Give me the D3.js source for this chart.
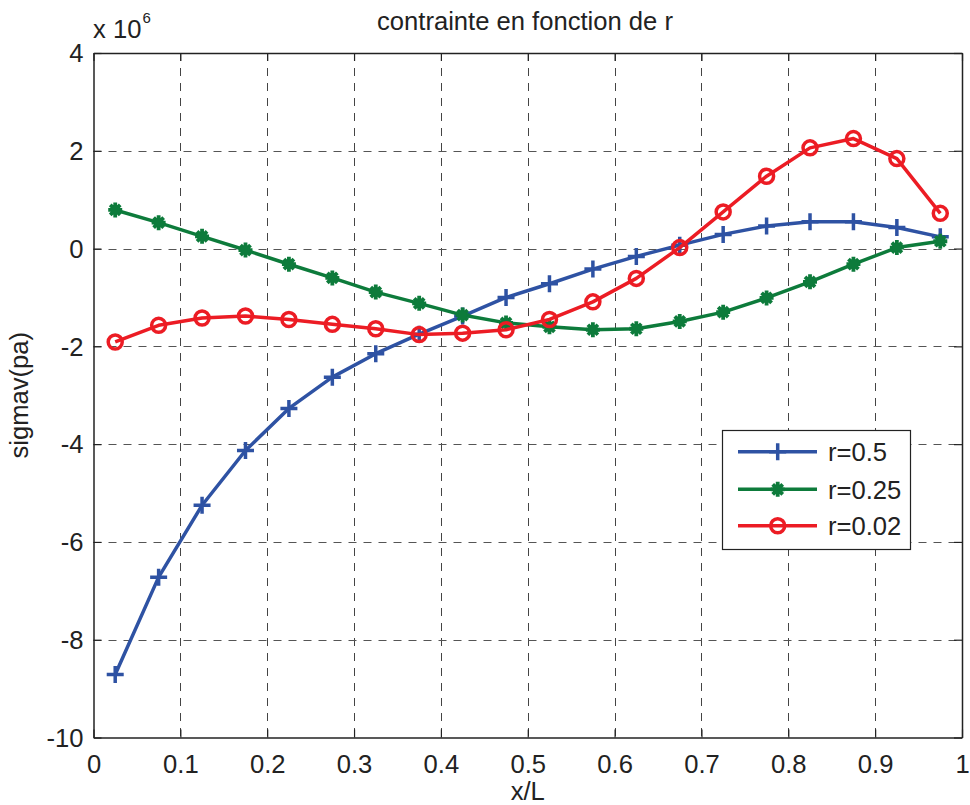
<!DOCTYPE html>
<html><head><meta charset="utf-8">
<script src="https://cdn.jsdelivr.net/npm/d3@7"></script>
<style>body{margin:0;background:#fff}svg{display:block}text{font-family:"Liberation Sans",Arial,sans-serif;fill:#222}</style>
</head><body><svg id="c" width="970" height="805"></svg>
<script>
const xVals = [0.025,0.075,0.125,0.175,0.225,0.275,0.325,0.375,0.425,0.475,0.525,0.575,0.625,0.675,0.725,0.775,0.825,0.875,0.925,0.975];
const seriesR05  = [-8.71,-6.72,-5.25,-4.13,-3.27,-2.63,-2.15,-1.75,-1.38,-1.00,-0.72,-0.42,-0.16,0.07,0.29,0.46,0.55,0.55,0.43,0.24];
const seriesR025 = [0.79,0.53,0.25,-0.03,-0.32,-0.60,-0.89,-1.12,-1.36,-1.52,-1.60,-1.66,-1.64,-1.49,-1.30,-1.01,-0.68,-0.32,0.02,0.15];
const seriesR002 = [-1.91,-1.57,-1.42,-1.38,-1.45,-1.55,-1.64,-1.76,-1.73,-1.66,-1.45,-1.09,-0.61,0.02,0.75,1.48,2.06,2.25,1.84,0.72];
const seriesNames = ["r=0.5","r=0.25","r=0.02"];
const xTicks = [0,0.1,0.2,0.3,0.4,0.5,0.6,0.7,0.8,0.9,1];
const yTicks = [-10,-8,-6,-4,-2,0,2,4];
const titleText = "contrainte en fonction de r";
const xLabel = "x/L", yLabel = "sigmav(pa)";

const FS = 25.6;
const svg = d3.select("#c");
const L=93.5, R=962, T=53, B=737.5;
const x = d3.scaleLinear().domain([0,1]).range([L,R]);
const y = d3.scaleLinear().domain([-10,4]).range([B,T]);
const px = v => Math.round(v)+0.5;

// grid
const g = svg.append("g");
xTicks.slice(1,-1).forEach(t=>g.append("line").attr("x1",px(x(t))).attr("x2",px(x(t))).attr("y1",T).attr("y2",B)
  .attr("stroke","#444").attr("stroke-width",1).attr("stroke-dasharray","8,7"));
yTicks.slice(1,-1).forEach(t=>g.append("line").attr("y1",px(y(t))).attr("y2",px(y(t))).attr("x1",L).attr("x2",R)
  .attr("stroke","#555").attr("stroke-width",1).attr("stroke-dasharray","8,7"));

// axes with inward ticks
const tl=8;
const fmt = d => String(d);
const ax = svg.append("g").attr("transform",`translate(0,${B})`).call(d3.axisBottom(x).tickValues(xTicks).tickFormat(fmt).tickSizeInner(-tl).tickSizeOuter(0).tickPadding(17));
const axT = svg.append("g").attr("transform",`translate(0,${T})`).call(d3.axisTop(x).tickValues(xTicks).tickFormat("").tickSizeInner(-tl).tickSizeOuter(0));
const ay = svg.append("g").attr("transform",`translate(${L},0)`).call(d3.axisLeft(y).tickValues(yTicks).tickFormat(fmt).tickSizeInner(-tl).tickSizeOuter(0).tickPadding(10));
const ayR = svg.append("g").attr("transform",`translate(${R},0)`).call(d3.axisRight(y).tickValues(yTicks).tickFormat("").tickSizeInner(-tl).tickSizeOuter(0));
[ax,axT,ay,ayR].forEach(a=>{a.select(".domain").attr("stroke","#222").attr("stroke-width",1.5);a.selectAll(".tick line").attr("stroke","#222").attr("stroke-width",1.2);
  a.selectAll("text").attr("font-size",FS).attr("fill","#222").attr("font-family","Liberation Sans, Arial, sans-serif");});
ax.selectAll("text").attr("dy","0.71em");
ay.selectAll("text").attr("dy","0.34em");

// series
const colors=["#2e52a3","#0d7b3b","#ec1c24"];
const data=[seriesR05,seriesR025,seriesR002];
const line=d3.line().x((d,i)=>x(xVals[i])).y(d=>y(d));
function marker(sel,type,color,cx,cy){
  const s=sel.append("g").attr("transform",`translate(${cx},${cy})`).attr("stroke",color).attr("stroke-width",3.5).attr("fill","none");
  if(type===0){s.append("path").attr("d","M-8.5,0H8.5M0,-8.5V8.5");}
  else if(type===1){s.append("path").attr("d","M-7,0H7M0,-7.5V7.5M-5,-5L5,5M-5,5L5,-5").attr("stroke-width",3.8);
    s.append("circle").attr("r",4.5).attr("fill",color).attr("stroke","none");}
  else {s.append("circle").attr("r",7);}
}
data.forEach((d,k)=>{
  svg.append("path").datum(d).attr("d",line).attr("fill","none").attr("stroke",colors[k]).attr("stroke-width",3.5).attr("stroke-linejoin","round");
  d.forEach((v,i)=>marker(svg,k,colors[k],x(xVals[i]),y(v)));
});

// legend
const lg=svg.append("g");
lg.append("rect").attr("x",722.5).attr("y",430.5).attr("width",188).attr("height",119).attr("fill","#fff").attr("stroke","#222").attr("stroke-width",1.2);
const rows=[451.7,489.3,525.7];
seriesNames.forEach((n,k)=>{
  lg.append("line").attr("x1",738).attr("x2",817).attr("y1",rows[k]).attr("y2",rows[k]).attr("stroke",colors[k]).attr("stroke-width",3.5);
  marker(lg,k,colors[k],777.7,rows[k]);
  lg.append("text").attr("x",828).attr("y",rows[k]).attr("dy","0.38em").attr("font-size",FS).text(n);
});

// texts
svg.append("text").attr("x",525).attr("y",30).attr("text-anchor","middle").attr("font-size",FS).text(titleText);
svg.append("text").attr("x",(L+R)/2).attr("y",800).attr("text-anchor","middle").attr("font-size",FS).text(xLabel);
svg.append("text").attr("transform",`translate(28,${(T+B)/2}) rotate(-90)`).attr("text-anchor","middle").attr("font-size",FS).text(yLabel);
const ex=svg.append("text").attr("x",93).attr("y",38.3).attr("font-size",FS);
ex.append("tspan").text("x 10");
ex.append("tspan").attr("font-size",15).attr("dy",-15).attr("dx",1).text("6");
</script></body></html>
